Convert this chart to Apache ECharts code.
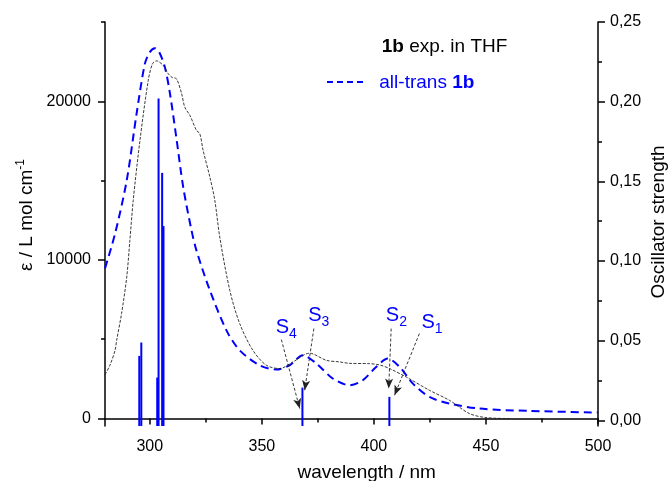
<!DOCTYPE html>
<html><head><meta charset="utf-8">
<script src="https://cdn.jsdelivr.net/npm/echarts@6/dist/echarts.min.js"></script>
<style>html,body{margin:0;padding:0;background:#fff}#c{width:668px;height:481px}</style>
</head><body><div id="c"></div>
<script>
// Experimental spectrum (1b in THF), epsilon in L mol^-1 cm^-1
const expWavelength = [280, 282.2, 284.5, 285.2, 287.4, 289.7, 291.1, 292.6, 295.6, 299.3, 301.2, 303, 306, 308.2, 310, 311.9, 314.2, 315.6, 317.9, 320.8, 322.3, 323.8, 326.8, 329, 331.2, 335.7, 340.1, 346, 352, 358, 363.9, 371.3, 378.8, 384.7, 389, 398, 402.5, 407, 414.4, 424.8, 433.7, 442.6, 450, 460.4];
const expEpsilon    = [2770, 3360, 4310, 4930, 6630, 8920, 11230, 13760, 17540, 21320, 22370, 22550, 22260, 21740, 21500, 21420, 20480, 19630, 19110, 18170, 17960, 16900, 15220, 13760, 11450, 8080, 5990, 4300, 3360, 3150, 3570, 4120, 3670, 3570, 3480, 3460, 3380, 3150, 2620, 1780, 1150, 315, 60, 0];
// Calculated (all-trans 1b) broadened spectrum
const calcWavelength = [280, 284.5, 289.7, 294.1, 297.8, 300, 302.3, 304.2, 306.7, 309, 312, 314.9, 318.6, 320.8, 326.8, 334.2, 340.1, 349, 356.5, 362.4, 368.3, 374.3, 381.7, 389.1, 395, 401, 406.2, 411.5, 417.4, 424.8, 433.7, 447, 469.3, 500];
const calcEpsilon    = [9470, 11660, 15020, 19220, 22370, 23100, 23350, 23100, 22160, 20480, 17540, 14590, 11870, 10600, 8080, 5560, 4300, 3360, 3090, 3360, 3990, 3470, 2520, 2100, 2410, 3250, 3780, 3250, 2200, 1360, 950, 630, 480, 380];
// Calculated transitions (oscillator strength)
const stickWavelength = [295.3, 296.2, 303.3, 303.9, 305.5, 306.1, 368.1, 406.9];
const stickStrength   = [0.0404, 0.0488, 0.0268, 0.202, 0.1553, 0.1219, 0.0205, 0.0147];
// Tick values
const xTicks = [300, 350, 400, 450, 500];
const xMinorTicks = [325, 375, 425, 475];
const leftTicks = [0, 10000, 20000];
const leftMinorTicks = [5000, 15000, 25000];
const rightTicks = [0, 0.05, 0.10, 0.15, 0.20, 0.25];
const rightMinorTicks = [0.025, 0.075, 0.125, 0.175, 0.225];
// State annotations
const stateLabels = ['4', '3', '2', '1'];
const stateLabelPos = [[356.2, 5772], [370.7, 6509], [405.3, 6509], [421.2, 6087]];
const arrowStart = [[358.7, 4978], [373.2, 5671], [407.7, 5671], [420.3, 5356]];
const arrowEnd   = [[366.9, 630], [369.1, 1783], [406.6, 1890], [409.2, 1468]];

const FONT = '"Liberation Sans", Arial, sans-serif';
const BLUE = '#0000ff';
const LEFT_MIN = -470, LEFT_MAX = 25000, RIGHT_MIN = -0.0036, RIGHT_MAX = 0.25;

const chart = echarts.init(document.getElementById('c'), null, {renderer: 'canvas'});

function zip(a, b) { return a.map((v, i) => [v, b[i]]); }

const axisLineStyle = {color: '#000', width: 1.5};
const labelStyle = {fontSize: 16, color: '#000', fontFamily: FONT};

const option = {
  animation: false,
  backgroundColor: '#fff',
  grid: {left: 105, right: 70, top: 22, bottom: 55},
  xAxis: [
    {type: 'value', min: 280, max: 500, position: 'bottom',
     axisLine: {show: true, lineStyle: axisLineStyle},
     axisTick: {show: true, length: 6, customValues: xTicks, lineStyle: {color: '#000', width: 1.5}},
     axisLabel: {show: true, customValues: xTicks, margin: 13, ...labelStyle},
     splitLine: {show: false}},
    {type: 'value', min: 280, max: 500, position: 'bottom',
     axisLine: {show: false},
     axisTick: {show: true, length: 4, customValues: xMinorTicks, lineStyle: {color: '#000', width: 1.5}},
     axisLabel: {show: false}, splitLine: {show: false}}
  ],
  yAxis: [
    {type: 'value', min: LEFT_MIN, max: LEFT_MAX, position: 'left',
     axisLine: {show: true, lineStyle: axisLineStyle},
     axisTick: {show: true, length: 7, customValues: leftTicks, lineStyle: {color: '#000', width: 1.5}},
     axisLabel: {show: true, customValues: leftTicks, margin: 14, formatter: v => String(v), ...labelStyle},
     splitLine: {show: false}},
    {type: 'value', min: LEFT_MIN, max: LEFT_MAX, position: 'left',
     axisLine: {show: false},
     axisTick: {show: true, length: 4, customValues: leftMinorTicks, lineStyle: {color: '#000', width: 1.5}},
     axisLabel: {show: false}, splitLine: {show: false}},
    {type: 'value', min: RIGHT_MIN, max: RIGHT_MAX, position: 'right',
     axisLine: {show: true, lineStyle: axisLineStyle},
     axisTick: {show: true, length: 7, customValues: rightTicks, lineStyle: {color: '#000', width: 1.5}},
     axisLabel: {show: true, customValues: rightTicks, margin: 12, formatter: v => v.toFixed(2).replace('.', ','), ...labelStyle},
     splitLine: {show: false}},
    {type: 'value', min: RIGHT_MIN, max: RIGHT_MAX, position: 'right',
     axisLine: {show: false},
     axisTick: {show: true, length: 4, customValues: rightMinorTicks, lineStyle: {color: '#000', width: 1.5}},
     axisLabel: {show: false}, splitLine: {show: false}}
  ],
  series: [
    {type: 'custom', name: 'sticks', xAxisIndex: 0, yAxisIndex: 2, silent: true, z: 1,
     data: zip(stickWavelength, stickStrength),
     encode: {x: 0, y: 1},
     renderItem: function (params, api) {
       const x = api.value(0), f = api.value(1);
       const top = api.coord([x, f]);
       const bot = api.coord([x, RIGHT_MIN]);
       return {type: 'rect', shape: {x: top[0] - 1, y: top[1], width: 2, height: bot[1] - top[1]}, style: {fill: BLUE}};
     }},
    {type: 'line', name: 'exp', xAxisIndex: 0, yAxisIndex: 0, z: 3,
     data: zip(expWavelength, expEpsilon), showSymbol: false, symbol: 'none', smooth: 0.3,
     lineStyle: {color: '#222', width: 0.9, type: [3, 1.5]},
     markLine: {silent: true, symbol: ['none', 'arrow'], symbolSize: [6, 10], animation: false,
       label: {show: false},
       lineStyle: {color: '#222', width: 0.9, type: [3, 2]},
       emphasis: {disabled: true},
       data: arrowStart.map((s, i) => [{coord: s}, {coord: arrowEnd[i]}])}},
    {type: 'line', name: 'calc', xAxisIndex: 0, yAxisIndex: 0, z: 2,
     data: zip(calcWavelength, calcEpsilon), showSymbol: false, symbol: 'none', smooth: 0.3,
     lineStyle: {color: BLUE, width: 2, type: [8, 5]}},
    {type: 'scatter', name: 'states', xAxisIndex: 0, yAxisIndex: 0, symbolSize: 0, silent: true, z: 5,
     itemStyle: {color: BLUE, opacity: 1},
     data: stateLabelPos.map((p, i) => [p[0], p[1], stateLabels[i]]),
     label: {show: true, position: 'right', distance: 0, color: BLUE, textBorderWidth: 0, opacity: 1,
       formatter: p => '{a|S}{b|' + p.value[2] + '}',
       rich: {
         a: {fontSize: 20, lineHeight: 28, color: BLUE, fontFamily: FONT, textBorderWidth: 0},
         b: {fontSize: 14, lineHeight: 14, verticalAlign: 'bottom', color: BLUE, fontFamily: FONT, textBorderWidth: 0}
       }}}
  ],
  graphic: [
    {type: 'text', x: 381.7, y: 46.7, silent: true,
     style: {text: '{b|1b}{n| exp. in THF}', verticalAlign: 'middle', align: 'left',
       rich: {b: {fontSize: 19, fontWeight: 'bold', fontFamily: FONT, fill: '#000'},
              n: {fontSize: 19, fontFamily: FONT, fill: '#000'}}}},
    {type: 'line', silent: true, shape: {x1: 327, y1: 82, x2: 366, y2: 82},
     style: {stroke: BLUE, lineWidth: 2, lineDash: [6, 4]}},
    {type: 'text', x: 379.3, y: 82.7, silent: true,
     style: {text: '{n|all-trans }{b|1b}', verticalAlign: 'middle', align: 'left',
       rich: {b: {fontSize: 19, fontWeight: 'bold', fontFamily: FONT, fill: BLUE},
              n: {fontSize: 19, fontFamily: FONT, fill: BLUE}}}},
    {type: 'text', x: 366.7, y: 473, silent: true,
     style: {text: 'wavelength / nm', font: '19px ' + FONT, fill: '#000', align: 'center', verticalAlign: 'middle'}},
    {type: 'text', x: 26.4, y: 215, rotation: Math.PI / 2, silent: true,
     style: {text: '{n|ε / L mol cm}{s|-1}', align: 'center', verticalAlign: 'middle',
       rich: {n: {fontSize: 19, lineHeight: 24, fontFamily: FONT, fill: '#000'},
              s: {fontSize: 12, lineHeight: 12, verticalAlign: 'top', fontFamily: FONT, fill: '#000'}}}},
    {type: 'text', x: 658.4, y: 222, rotation: Math.PI / 2, silent: true,
     style: {text: 'Oscillator strength', font: '19px ' + FONT, fill: '#000', align: 'center', verticalAlign: 'middle'}}
  ]
};
chart.setOption(option);
</script>
</body></html>
